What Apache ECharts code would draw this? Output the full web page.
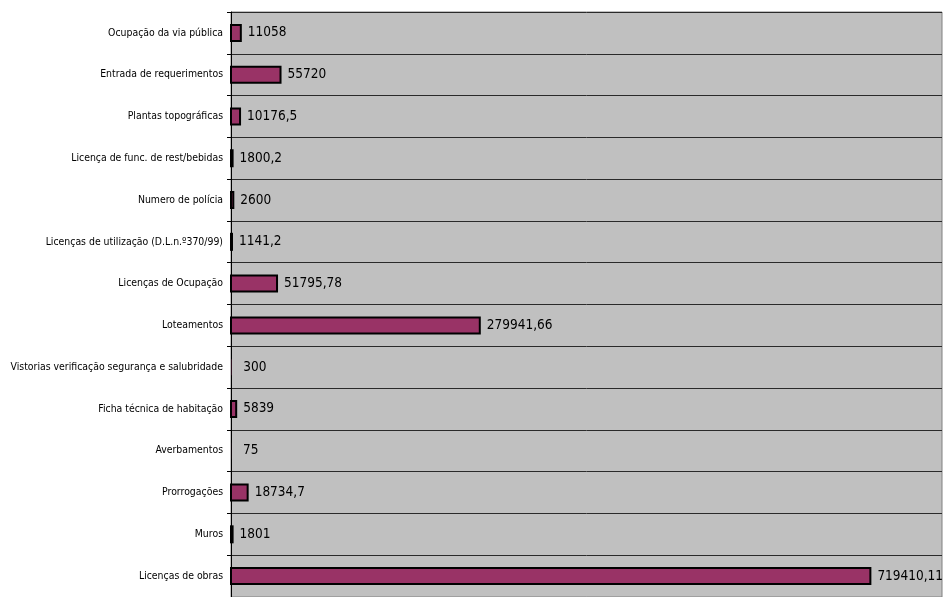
<!DOCTYPE html>
<html><head><meta charset="utf-8">
<script src="https://cdn.jsdelivr.net/npm/echarts@6/dist/echarts.min.js"></script>
<style>html,body{margin:0;padding:0;background:#fff}#c{width:943px;height:597px}</style>
</head><body><div id="c"></div>
<script>
const categories = [
  "Ocupação da via pública",
  "Entrada de requerimentos",
  "Plantas topográficas",
  "Licença de func. de rest/bebidas",
  "Numero de polícia",
  "Licenças de utilização (D.L.n.º370/99)",
  "Licenças de Ocupação",
  "Loteamentos",
  "Vistorias verificação segurança e salubridade",
  "Ficha técnica de habitação",
  "Averbamentos",
  "Prorrogações",
  "Muros",
  "Licenças de obras"
];
const values = [11058, 55720, 10176.5, 1800.2, 2600, 1141.2, 51795.78, 279941.66, 300, 5839, 75, 18734.7, 1801, 719410.11];
const axisMax = 800000;

const chart = echarts.init(document.getElementById('c'), null, {renderer: 'canvas'});
chart.setOption({
  animation: false,
  grid: {left: 231, top: 12, width: 711, height: 592, show: true, backgroundColor: '#c0c0c0', borderColor: '#808080', borderWidth: 1},
  xAxis: {type: 'value', min: 0, max: axisMax, show: false},
  yAxis: {
    type: 'category', data: categories, inverse: true,
    axisLine: {show: true, lineStyle: {color: '#000', width: 1}},
    axisTick: {show: true, length: 4, lineStyle: {color: '#000'}},
    splitLine: {show: true, lineStyle: {color: '#2a2a2a', width: 1}},
    axisLabel: {color: '#000', fontFamily: '"DejaVu Sans Condensed", "DejaVu Sans"', fontSize: 10.4, margin: 8}
  },
  series: [{
    type: 'custom',
    data: values.map((v, i) => [v, i]),
    encode: {x: 0, y: 1},
    renderItem: function (params, api) {
      const v = api.value(0);
      const c0 = api.coord([0, api.value(1)]);
      const c1 = api.coord([v, api.value(1)]);
      const h = 16;
      const tiny = v < 1000;
      return {
        type: 'rect',
        shape: {x: c0[0], y: c0[1] - h / 2, width: c1[0] - c0[0], height: h},
        style: {fill: '#993366', stroke: tiny ? null : '#000', lineWidth: tiny ? 0 : 2},
        textContent: {
          style: {
            text: String(v).replace('.', ','),
            fill: '#000', fontFamily: '"DejaVu Sans Condensed", "DejaVu Sans"', fontSize: 13.5
          }
        },
        textConfig: {position: 'right', distance: tiny ? 12 : 6}
      };
    }
  }]
});
</script></body></html>
